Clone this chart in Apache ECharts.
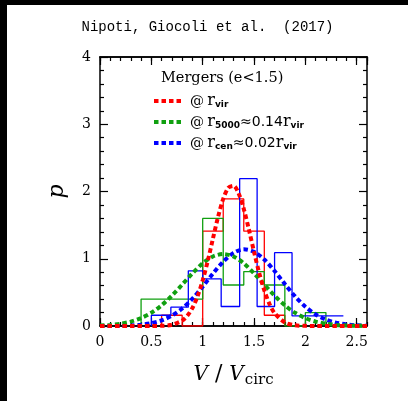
<!DOCTYPE html>
<html><head><meta charset="utf-8">
<script src="https://cdn.jsdelivr.net/npm/echarts@6/dist/echarts.min.js"></script>
<style>
html,body{margin:0;padding:0;background:#000;width:408px;height:401px;overflow:hidden}
#c{position:absolute;left:7px;top:5px;width:401px;height:396px;background:#fff}
</style></head><body><div id="c"></div>
<script>
// ---- data ----
const redCurveX = [0,0.1,0.2,0.3,0.4,0.5,0.6,0.7,0.8,0.85,0.9,0.95,1.0,1.05,1.1,1.15,1.2,1.25,1.3,1.35,1.4,1.45,1.5,1.55,1.6,1.65,1.7,1.8,1.9,2.0,2.1,2.2,2.3,2.4,2.5,2.6];
const redCurveY = [0,0,0,0,0,0,0.003,0.018,0.080,0.152,0.268,0.442,0.679,0.972,1.301,1.624,1.891,2.055,2.084,1.971,1.741,1.434,1.102,0.790,0.529,0.330,0.192,0.053,0.011,0.002,0,0,0,0,0,0];
const greenCurveX = [0,0.1,0.2,0.3,0.4,0.5,0.6,0.7,0.8,0.9,1.0,1.1,1.2,1.3,1.4,1.5,1.6,1.7,1.8,1.9,2.0,2.1,2.2,2.3,2.4,2.5,2.6];
const greenCurveY = [0.007,0.016,0.034,0.065,0.117,0.196,0.308,0.450,0.615,0.783,0.932,1.034,1.07,1.034,0.932,0.783,0.615,0.450,0.308,0.196,0.117,0.065,0.034,0.016,0.007,0.003,0.001];
const blueCurveX = [0,0.1,0.2,0.3,0.4,0.5,0.6,0.7,0.8,0.9,1.0,1.1,1.2,1.3,1.4,1.5,1.6,1.7,1.8,1.9,2.0,2.1,2.2,2.3,2.4,2.5,2.6];
const blueCurveY = [0,0.001,0.003,0.009,0.020,0.043,0.084,0.154,0.260,0.406,0.585,0.779,0.957,1.087,1.14,1.104,0.988,0.817,0.623,0.440,0.287,0.172,0.096,0.049,0.023,0.010,0.004];

const redBinEdges = [0.6,0.8,1.0,1.2,1.4,1.6,1.8];
const redBinValues = [0.16,0,1.41,1.89,1.41,0.16];
const greenBinEdges = [0.4,0.6,0.8,1.0,1.2,1.4,1.6,1.8,2.0,2.2];
const greenBinValues = [0.4,0.4,0.4,1.6,0.61,0.81,0.61,0,0.2];
const blueBinEdges = [0.5,0.69,0.86,1.0,1.18,1.36,1.53,1.7,1.87,2.03,2.2,2.37];
const blueBinValues = [0.16,0.28,0.82,0.70,0.29,2.19,0.29,1.09,0.15,0.15,0.15];

const xTickLabels = [0,0.5,1,1.5,2,2.5];
const yTickLabels = [0,1,2,3,4];

const RED='#ff0000', GREEN='#10a010', BLUE='#0000ff';

function curve(xs, ys){ return xs.map((x,i)=>[x, ys[i]]); }
function steps(edges, vals, closeEnd){
  const pts=[[edges[0],0]];
  vals.forEach((v,i)=>{ pts.push([edges[i],v]); pts.push([edges[i+1],v]); });
  if(closeEnd) pts.push([edges[edges.length-1],0]);
  return pts;
}

const chart = echarts.init(document.getElementById('c'), null, {renderer:'canvas'});
const serif = 'DejaVu Serif';
const baseX = (pos, interval, len, labels) => ({
  type:'value', min:0, max:2.6, interval, position:pos,
  axisLine:{show:true, onZero:false, lineStyle:{color:'#000', width:1.5}},
  axisTick:{show:true, inside:true, length:len, lineStyle:{color:'#000', width:1.2}},
  axisLabel:{show:labels, showMaxLabel:false, margin:9, fontFamily:serif, fontSize:14, color:'#000'},
  splitLine:{show:false}
});
const xMainBottom = baseX('bottom',0.5,8,true);
xMainBottom.name = '{i|V}{s| / }{i|V}{sub|circ}';
xMainBottom.nameLocation='middle';
xMainBottom.nameGap=35;
xMainBottom.nameTextStyle={rich:{
  i:{fontFamily:serif, fontStyle:'italic', fontSize:20, color:'#000'},
  s:{fontFamily:serif, fontSize:22, color:'#000'},
  sub:{fontFamily:serif, fontSize:15, color:'#000', padding:[12,0,0,1]}
}};
const baseY = (pos, labels) => ({
  type:'value', min:0, max:4, interval:1, position:pos,
  axisLine:{show:true, onZero:false, lineStyle:{color:'#000', width:1.5}},
  axisTick:{show:true, inside:true, length:8, lineStyle:{color:'#000', width:1.2}},
  minorTick:{show:true, splitNumber:5, length:4, lineStyle:{color:'#000', width:1.2}},
  axisLabel:{show:labels, margin:9, fontFamily:serif, fontSize:14, color:'#000'},
  splitLine:{show:false}
});
const yLeft = baseY('left', true);
yLeft.name='p'; yLeft.nameLocation='middle'; yLeft.nameGap=32;
yLeft.nameTextStyle={fontFamily:serif, fontStyle:'italic', fontSize:22, color:'#000'};

const legendText = {
  'r_vir':'{at|@} {r|r}{sub|vir}',
  'r_5000':'{at|@} {r|r}{sub|5000}{s|≈0.14}{r|r}{sub|vir}',
  'r_cen':'{at|@} {r|r}{sub|cen}{s|≈0.02}{r|r}{sub|vir}'
};

const option = {
  animation:false,
  backgroundColor:'#fff',
  title:[
    {text:'Nipoti, Giocoli et al.  (2017)', left:'center', top:10,
     textStyle:{fontFamily:'Liberation Mono', fontSize:14, fontWeight:'normal', color:'#000'}},
    {text:'Mergers (e<1.5)', left:149, top:61,
     textStyle:{fontFamily:serif, fontSize:14.5, fontWeight:'normal', color:'#000'}}
  ],
  grid:{left:93, top:52, width:267, height:269, containLabel:false},
  xAxis:[ xMainBottom, baseX('bottom',0.1,4,false), baseX('top',0.5,8,false), baseX('top',0.1,4,false) ],
  yAxis:[ yLeft, baseY('right', false) ],
  legend:{
    orient:'vertical', left:140, top:82, itemWidth:30, itemHeight:8, itemGap:3,
    data:['r_vir','r_5000','r_cen'],
    formatter: n => legendText[n],
    itemStyle:{opacity:0},
    lineStyle:{width:4, type:[4.5,3], cap:'butt'},
    textStyle:{ padding:[0,0,0,1], lineHeight:18, rich:{
      at:{fontFamily:serif, fontSize:14, color:'#000'},
      r:{fontFamily:serif, fontSize:16, color:'#000'},
      sub:{fontFamily:'DejaVu Sans', fontWeight:'bold', fontSize:9, color:'#000', padding:[8,0,0,0]},
      s:{fontFamily:'DejaVu Sans', fontSize:14, color:'#000'}
    }}
  },
  series:[
    {type:'line', name:'hist_red', data:steps(redBinEdges, redBinValues, true), symbol:'none', lineStyle:{color:RED, width:1.3}, itemStyle:{color:RED}, z:2},
    {type:'line', name:'hist_green', data:steps(greenBinEdges, greenBinValues, true), symbol:'none', lineStyle:{color:GREEN, width:1.3}, itemStyle:{color:GREEN}, z:2},
    {type:'line', name:'hist_blue', data:steps(blueBinEdges, blueBinValues, false), symbol:'none', lineStyle:{color:BLUE, width:1.3}, itemStyle:{color:BLUE}, z:2},
    {type:'line', name:'r_vir', data:curve(redCurveX, redCurveY), smooth:0.3, symbol:'none', lineStyle:{color:RED, width:4, type:[4.5,3], cap:'butt'}, itemStyle:{color:RED}, z:5},
    {type:'line', name:'r_5000', data:curve(greenCurveX, greenCurveY), smooth:0.3, symbol:'none', lineStyle:{color:GREEN, width:4, type:[4.5,3], cap:'butt'}, itemStyle:{color:GREEN}, z:4},
    {type:'line', name:'r_cen', data:curve(blueCurveX, blueCurveY), smooth:0.3, symbol:'none', lineStyle:{color:BLUE, width:4, type:[4.5,3], cap:'butt'}, itemStyle:{color:BLUE}, z:3}
  ]
};
chart.setOption(option);
</script></body></html>
